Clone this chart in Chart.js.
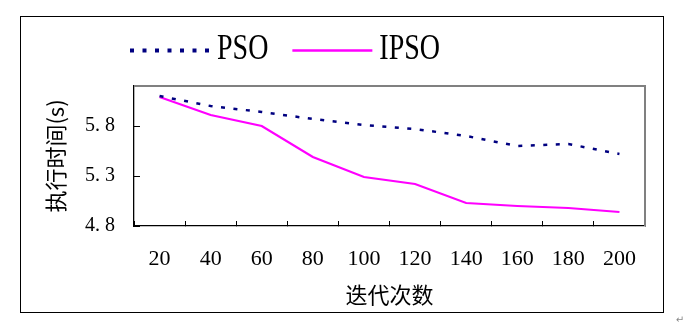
<!DOCTYPE html>
<html>
<head>
<meta charset="utf-8">
<script src="https://cdn.jsdelivr.net/npm/chart.js@4/dist/chart.umd.min.js"></script>
<style>
  body { margin: 0; background: #fff; }
  #wrap { width: 683px; height: 328px; }
</style>
</head>
<body>
<div id="wrap"><canvas id="myChart" width="683" height="328"></canvas></div>
<script>
// Chart data
const categories = ["20", "40", "60", "80", "100", "120", "140", "160", "180", "200"];
const psoValues = [6.10, 6.00, 5.94, 5.87, 5.81, 5.77, 5.70, 5.60, 5.62, 5.52];
const ipsoValues = [6.09, 5.91, 5.80, 5.49, 5.29, 5.22, 5.03, 5.00, 4.98, 4.94];
const yTicks = [4.8, 5.3, 5.8];
const seriesNames = ["PSO", "IPSO"];
const xTitle = "迭代次数";
const yTitle = "执行时间(s)";

// Outer frame, plot border (top/right) and small mark in the corner
const framePlugin = {
  id: "frame",
  beforeDraw(chart) {
    const ctx = chart.ctx;
    ctx.save();
    ctx.fillStyle = "#fff";
    ctx.fillRect(0, 0, chart.width, chart.height);
    ctx.strokeStyle = "#000";
    ctx.lineWidth = 1;
    ctx.strokeRect(20.5, 16.5, 643, 296);
    ctx.fillStyle = "#888";
    ctx.font = "10px 'DejaVu Sans'";
    ctx.textAlign = "center";
    ctx.textBaseline = "middle";
    ctx.fillText("↵", 680, 320);
    ctx.restore();
  },
  beforeDatasetsDraw(chart) {
    const a = chart.chartArea;
    const ctx = chart.ctx;
    ctx.save();
    ctx.strokeStyle = "#808080";
    ctx.lineWidth = 2;
    ctx.beginPath();
    ctx.moveTo(a.left, a.top);
    ctx.lineTo(a.right, a.top);
    ctx.lineTo(a.right, a.bottom);
    ctx.stroke();
    ctx.restore();
  },
};

// Legend drawn by hand so the narrow serif text can be squeezed
const legendPlugin = {
  id: "narrowLegend",
  afterDraw(chart) {
    const ctx = chart.ctx;
    const sampleWidth = 80;
    const textGap = 7;
    const itemGap = 24;
    const squeeze = 0.8;
    let x = 130;
    ctx.save();
    ctx.font = "35px 'Liberation Serif'";
    ctx.textBaseline = "alphabetic";
    chart.data.datasets.forEach((ds) => {
      ctx.save();
      ctx.strokeStyle = ds.borderColor;
      ctx.lineWidth = ds.legendWidth;
      ctx.setLineDash(ds.legendDash || []);
      ctx.beginPath();
      ctx.moveTo(x, 50.5);
      ctx.lineTo(x + sampleWidth, 50.5);
      ctx.stroke();
      ctx.restore();
      x += sampleWidth + textGap;
      const w = ctx.measureText(ds.label).width * squeeze;
      ctx.save();
      ctx.translate(x, 59);
      ctx.scale(squeeze, 1);
      ctx.fillStyle = "#000";
      ctx.fillText(ds.label, 0, 0);
      ctx.restore();
      x += w + itemGap;
    });
    ctx.restore();
  },
};

const ctx = document.getElementById("myChart").getContext("2d");

const myChart = new Chart(ctx, {
  type: "line",
  data: {
    labels: categories,
    datasets: [
      {
        label: seriesNames[0],
        data: psoValues,
        borderColor: "#000080",
        borderWidth: 2.5,
        borderDash: [4, 8.5],
        legendWidth: 4,
        legendDash: [4, 8.5],
        pointRadius: 0,
        tension: 0,
        fill: false,
      },
      {
        label: seriesNames[1],
        data: ipsoValues,
        borderColor: "#FF00FF",
        borderWidth: 2.2,
        legendWidth: 2.5,
        pointRadius: 0,
        tension: 0,
        fill: false,
      },
    ],
  },
  options: {
    responsive: false,
    animation: false,
    layout: {
      padding: { left: 30, top: 86, right: 38, bottom: 0 },
    },
    plugins: {
      legend: { display: false },
      tooltip: { enabled: false },
    },
    scales: {
      x: {
        offset: true,
        grid: {
          offset: true,
          drawOnChartArea: false,
          drawTicks: true,
          tickLength: -5,
          color: "#000",
        },
        border: { color: "#000", width: 1.3 },
        ticks: {
          color: "#000",
          padding: 25.5,
          maxRotation: 0,
          autoSkip: false,
          font: { family: "'Liberation Serif'", size: 22 },
        },
        title: {
          display: true,
          text: xTitle,
          color: "#000",
          padding: { top: 0, bottom: 20 },
          font: { family: "'Noto Sans CJK SC'", size: 22 },
        },
        afterFit(scale) {
          scale.height = 102;
        },
      },
      y: {
        min: 4.8,
        max: 6.2,
        afterBuildTicks(scale) {
          scale.ticks = yTicks.map((v) => ({ value: v }));
        },
        grid: {
          drawOnChartArea: false,
          drawTicks: true,
          tickLength: -6,
          color: "#000",
        },
        border: { color: "#000", width: 1.3 },
        ticks: {
          color: "#000",
          padding: 25,
          font: { family: "'Liberation Serif'", size: 20 },
          callback: (v) => Number(v).toFixed(1).replace(".", ". "),
        },
        title: {
          display: true,
          text: yTitle,
          color: "#000",
          padding: { top: 12, bottom: 0 },
          font: { family: "'Noto Sans CJK SC'", size: 22 },
        },
        afterFit(scale) {
          scale.width = 104;
        },
      },
    },
  },
  plugins: [framePlugin, legendPlugin],
});
</script>
</body>
</html>
